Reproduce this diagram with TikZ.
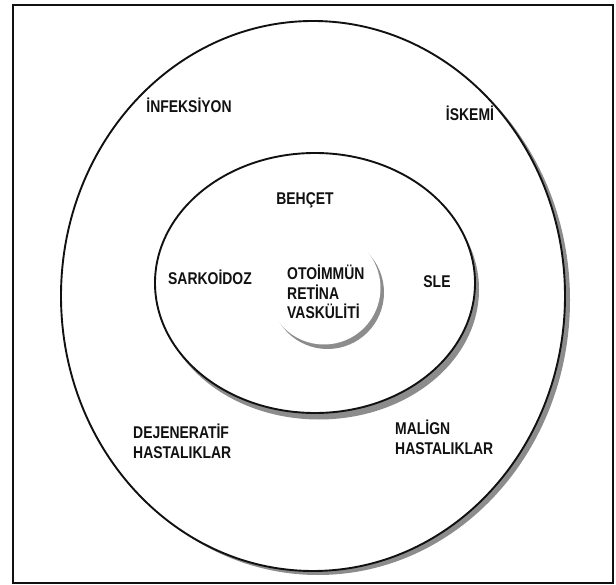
\documentclass[tikz,border=0pt]{standalone}
\usepackage{fontspec}
\newfontfamily\labelfont{Liberation Sans}[FakeStretch=0.82]
\definecolor{ink}{HTML}{111111}
\definecolor{stipple}{HTML}{8C8C8C}

\begin{document}
\begin{tikzpicture}[
  x=1pt,y=-1pt,font=\labelfont\bfseries\fontsize{17}{19.5}\selectfont,
  ring/.style={draw=ink,line width=1.9pt,fill=white},
  shade/.style={fill=stipple,draw=none},
  lbl/.style={text=ink,inner sep=0pt,align=left}
]
\path[use as bounding box] (0,0) rectangle (616,585);
\draw[ink,line width=1.6pt] (13,5) rectangle (613,583);
% outer ring with its shadow
\path[shade] (318,300) ellipse [x radius=252,y radius=275];
\path[ring] (313,296) ellipse [x radius=252,y radius=275];
% middle ring with its shadow
\path[shade] (319,289.5) ellipse [x radius=160,y radius=130];
\path[ring] (315,283) ellipse [x radius=160,y radius=130];
% inner circle, only its shadow shows
\path[shade] (327.5,292.5) circle [radius=56.5];
\path[fill=white] (324,288) circle [radius=56.5];

\node[lbl] (infeksiyon) at (189,105.5) {İNFEKSİYON};
\node[lbl] (iskemi) at (470,113) {İSKEMİ};
\node[lbl] (behcet) at (305,200) {BEHÇET};
\node[lbl] (sarkoidoz) at (210,277) {SARKOİDOZ};
\node[lbl] (sle) at (437,282) {SLE};
\node[lbl,anchor=west] (orv) at (287,292) {OTOİMMÜN\\RETİNA\\VASKÜLİTİ};
\node[lbl,anchor=west] (dejen) at (133,441.5) {DEJENERATİF\\HASTALIKLAR};
\node[lbl,anchor=west] (malign) at (395,437.5) {MALİGN\\HASTALIKLAR};
\end{tikzpicture}
\end{document}
